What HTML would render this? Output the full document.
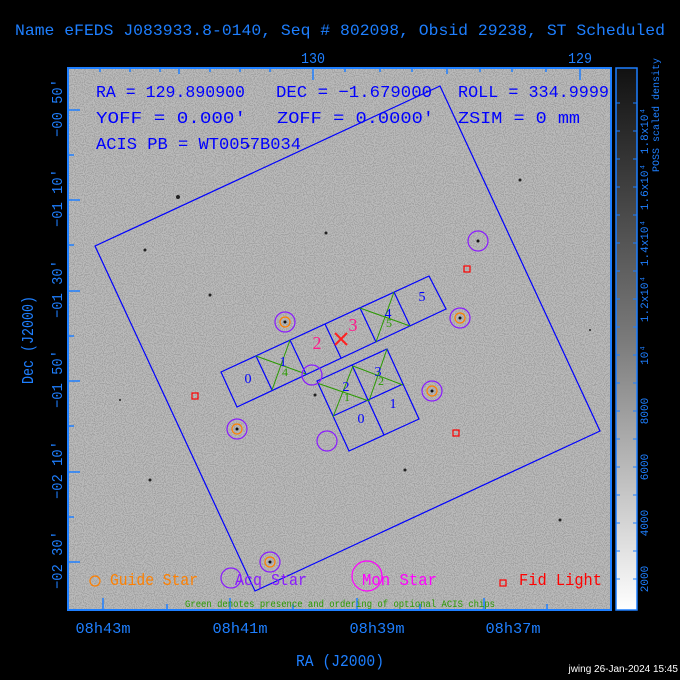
<!DOCTYPE html>
<html><head><meta charset="utf-8"><style>
html,body{margin:0;padding:0;background:#000;}
svg{display:block;}
text{font-family:"Liberation Serif",serif;}
.m{font-family:"Liberation Mono",monospace;}
</style></head><body>
<svg width="680" height="680" viewBox="0 0 680 680" xmlns="http://www.w3.org/2000/svg">
<defs>
<filter id="nz" x="0" y="0" width="100%" height="100%">
<feTurbulence type="fractalNoise" baseFrequency="0.9" numOctaves="1" seed="3" result="t"/>
<feColorMatrix in="t" type="matrix" values="0 0 0 0 0  0 0 0 0 0  0 0 0 0 0  0 0 0 -12 6.2"/>
</filter>
<linearGradient id="cb" x1="0" y1="0" x2="0" y2="1">
<stop offset="0" stop-color="#111"/><stop offset="0.5" stop-color="#7a7a7a"/><stop offset="1" stop-color="#fff"/>
</linearGradient>
</defs>
<text class="m" x="340" y="35" font-size="16" fill="#1e7fff" text-anchor="middle" textLength="650" lengthAdjust="spacingAndGlyphs">Name eFEDS J083933.8-0140, Seq # 802098, Obsid 29238, ST Scheduled</text>
<rect x="68" y="68" width="543" height="542" fill="#bababa"/>
<rect x="68" y="68" width="543" height="542" filter="url(#nz)" opacity="0.12"/>
<g fill="#222">
<circle cx="178" cy="197" r="2"/><circle cx="145" cy="250" r="1.5"/><circle cx="210" cy="295" r="1.5"/><circle cx="326" cy="233" r="1.5"/><circle cx="405" cy="470" r="1.5"/><circle cx="520" cy="180" r="1.5"/><circle cx="150" cy="480" r="1.5"/><circle cx="560" cy="520" r="1.5"/><circle cx="315" cy="395" r="1.5"/><circle cx="248" cy="146" r="1.5"/><circle cx="590" cy="330" r="1"/><circle cx="120" cy="400" r="1"/>
</g>
<rect x="68" y="68" width="543" height="542" fill="none" stroke="#1e7fff" stroke-width="2"/>
<g stroke="#1e7fff" stroke-width="1.5">
<path d="M68 110h12M68 200h12M68 291h12M68 381h12M68 472h12M68 562h12M68 155h6M68 245h6M68 336h6M68 426h6M68 517h6"/>
<path d="M103 610v-12M230 610v-12M357 610v-12M484 610v-12M167 610v-6M293 610v-6M420 610v-6M547 610v-6"/>
<path d="M313 68v12M580 68v12M179 68v6M447 68v6M100 68v4M130 68v4M160 68v4M210 68v4M240 68v4M270 68v4M345 68v4M380 68v4M412 68v4M480 68v4M512 68v4M546 68v4"/>
</g>
<g fill="#1e7fff" font-size="15" class="m">
<text class="m" x="313" y="63" text-anchor="middle" textLength="24" lengthAdjust="spacingAndGlyphs">130</text>
<text class="m" x="580" y="63" text-anchor="middle" textLength="24" lengthAdjust="spacingAndGlyphs">129</text>
<text class="m" x="103" y="633" text-anchor="middle" textLength="55" lengthAdjust="spacingAndGlyphs">08h43m</text>
<text class="m" x="240" y="633" text-anchor="middle" textLength="55" lengthAdjust="spacingAndGlyphs">08h41m</text>
<text class="m" x="377" y="633" text-anchor="middle" textLength="55" lengthAdjust="spacingAndGlyphs">08h39m</text>
<text class="m" x="513" y="633" text-anchor="middle" textLength="55" lengthAdjust="spacingAndGlyphs">08h37m</text>
<text class="m" x="340" y="666" text-anchor="middle" font-size="17" textLength="88" lengthAdjust="spacingAndGlyphs">RA (J2000)</text>
<text class="m" transform="translate(62,108) rotate(-90)" text-anchor="middle" textLength="58" lengthAdjust="spacingAndGlyphs">−00 50′</text>
<text class="m" transform="translate(62,198) rotate(-90)" text-anchor="middle" textLength="58" lengthAdjust="spacingAndGlyphs">−01 10′</text>
<text class="m" transform="translate(62,289) rotate(-90)" text-anchor="middle" textLength="58" lengthAdjust="spacingAndGlyphs">−01 30′</text>
<text class="m" transform="translate(62,379) rotate(-90)" text-anchor="middle" textLength="58" lengthAdjust="spacingAndGlyphs">−01 50′</text>
<text class="m" transform="translate(62,470) rotate(-90)" text-anchor="middle" textLength="58" lengthAdjust="spacingAndGlyphs">−02 10′</text>
<text class="m" transform="translate(62,560) rotate(-90)" text-anchor="middle" textLength="58" lengthAdjust="spacingAndGlyphs">−02 30′</text>
<text class="m" transform="translate(33,340) rotate(-90)" text-anchor="middle" font-size="17" textLength="88" lengthAdjust="spacingAndGlyphs">Dec (J2000)</text>
</g>
<g fill="#0000ff" font-size="17">
<text class="m" x="96" y="97" textLength="149" lengthAdjust="spacingAndGlyphs">RA = 129.890900</text>
<text class="m" x="276" y="97" textLength="156" lengthAdjust="spacingAndGlyphs">DEC = −1.679000</text>
<text class="m" x="458" y="97" textLength="151" lengthAdjust="spacingAndGlyphs">ROLL = 334.9999</text>
<text class="m" x="96" y="123" textLength="150" lengthAdjust="spacingAndGlyphs">YOFF =   0.000′</text>
<text class="m" x="277" y="123" textLength="157" lengthAdjust="spacingAndGlyphs">ZOFF =  0.0000′</text>
<text class="m" x="458" y="123" textLength="122" lengthAdjust="spacingAndGlyphs">ZSIM = 0 mm</text>
<text class="m" x="96" y="149" textLength="205" lengthAdjust="spacingAndGlyphs">ACIS PB = WT0057B034</text>
</g>
<g fill="none" stroke="#0000ff" stroke-width="1.2">
<polygon points="95,246 440,86 600,431 255,591"/>
<polygon points="221,372 429,276 446,309 237,407"/>
<path d="M256,356 L272,390 M290,340 L306,374 M325,324 L341,358 M360,308 L376,342 M394,292 L410,326"/>
<polygon points="387,349 419,419 349,451 317,381"/>
<path d="M352,365 L384,435 M403,384 L333,416"/>
</g>
<g stroke="#2a9a00" stroke-width="1">
<path d="M256,356 L306,374 M290,340 L272,390 M360,308 L410,326 M394,292 L376,342 M353,366 L333,417 M353,366 L403,385 M317,383 L369,401 M387,349 L369,401"/>
</g>
<g fill="#0000ff" font-size="14">
<text x="248" y="383" text-anchor="middle">0</text>
<text x="283" y="366" text-anchor="middle">1</text>
<text x="388" y="318" text-anchor="middle">4</text>
<text x="422" y="301" text-anchor="middle">5</text>
<text x="346" y="391" text-anchor="middle">2</text>
<text x="378" y="376" text-anchor="middle">3</text>
<text x="361" y="423" text-anchor="middle">0</text>
<text x="393" y="408" text-anchor="middle">1</text>
</g>
<g fill="#2a9a00" font-size="12">
<text x="285" y="376" text-anchor="middle">4</text>
<text x="389" y="327" text-anchor="middle">5</text>
<text x="347" y="401" text-anchor="middle">1</text>
<text x="381" y="385" text-anchor="middle">2</text>
</g>
<g fill="#ff1a8c" font-size="18">
<text x="317" y="349" text-anchor="middle">2</text>
<text x="353" y="331" text-anchor="middle">3</text>
</g>
<path d="M335,333 L347,345 M347,333 L335,345" stroke="#ff2020" stroke-width="2"/>
<g fill="none" stroke="#8a1aff" stroke-width="1.2">
<circle cx="285" cy="322" r="10"/><circle cx="478" cy="241" r="10"/><circle cx="460" cy="318" r="10"/><circle cx="432" cy="391" r="10"/><circle cx="237" cy="429" r="10"/><circle cx="270" cy="562" r="10"/><circle cx="312" cy="375" r="10"/><circle cx="327" cy="441" r="10"/>
</g>
<g fill="none" stroke="#ff8000" stroke-width="1.2">
<circle cx="285" cy="322" r="5"/><circle cx="460" cy="318" r="5"/><circle cx="432" cy="391" r="5"/><circle cx="237" cy="429" r="5"/><circle cx="270" cy="562" r="5"/>
</g>
<g fill="#111"><circle cx="285" cy="322" r="1.5"/><circle cx="478" cy="241" r="1.5"/><circle cx="460" cy="318" r="1.5"/><circle cx="432" cy="391" r="1.5"/><circle cx="237" cy="429" r="1.5"/><circle cx="270" cy="562" r="1.5"/></g>
<g fill="none" stroke="#ff0000" stroke-width="1.2">
<rect x="192" y="393" width="6" height="6"/><rect x="464" y="266" width="6" height="6"/><rect x="453" y="430" width="6" height="6"/><rect x="500" y="580" width="6" height="6"/>
</g>
<circle cx="95" cy="581" r="5" fill="none" stroke="#ff8000" stroke-width="1.2"/>
<circle cx="231" cy="578" r="10" fill="none" stroke="#8a1aff" stroke-width="1.2"/>
<circle cx="367" cy="576" r="15" fill="none" stroke="#ff00ff" stroke-width="1.2"/>
<g font-size="17">
<text class="m" x="110" y="585" fill="#ff8000" textLength="88" lengthAdjust="spacingAndGlyphs">Guide Star</text>
<text class="m" x="235" y="585" fill="#8a1aff" textLength="72" lengthAdjust="spacingAndGlyphs">Acq Star</text>
<text class="m" x="362" y="585" fill="#ff00ff" textLength="75" lengthAdjust="spacingAndGlyphs">Mon Star</text>
<text class="m" x="519" y="585" fill="#ff0000" textLength="83" lengthAdjust="spacingAndGlyphs">Fid Light</text>
</g>
<text class="m" x="340" y="607" fill="#2a9a00" font-size="10" text-anchor="middle" textLength="310" lengthAdjust="spacingAndGlyphs">Green denotes presence and ordering of optional ACIS chips</text>
<rect x="616" y="68" width="21" height="542" fill="url(#cb)" stroke="#1e7fff" stroke-width="1.5"/>
<g stroke="#1e7fff" stroke-width="1"><path d="M616 103h4M633 103h4M616 131h4M633 131h4M616 159h4M633 159h4M616 187h4M633 187h4M616 215h4M633 215h4M616 243h4M633 243h4M616 271h4M633 271h4M616 299h4M633 299h4M616 327h4M633 327h4M616 355h4M633 355h4M616 383h4M633 383h4M616 411h4M633 411h4M616 439h4M633 439h4M616 467h4M633 467h4M616 495h4M633 495h4M616 523h4M633 523h4M616 551h4M633 551h4M616 579h4M633 579h4"/></g>
<g fill="#1e7fff" font-size="11">
<text class="m" transform="translate(648,579) rotate(-90)" text-anchor="middle">2000</text>
<text class="m" transform="translate(648,523) rotate(-90)" text-anchor="middle">4000</text>
<text class="m" transform="translate(648,467) rotate(-90)" text-anchor="middle">6000</text>
<text class="m" transform="translate(648,411) rotate(-90)" text-anchor="middle">8000</text>
<text class="m" transform="translate(648,355) rotate(-90)" text-anchor="middle">10⁴</text>
<text class="m" transform="translate(648,299) rotate(-90)" text-anchor="middle">1.2x10⁴</text>
<text class="m" transform="translate(648,243) rotate(-90)" text-anchor="middle">1.4x10⁴</text>
<text class="m" transform="translate(648,187) rotate(-90)" text-anchor="middle">1.6x10⁴</text>
<text class="m" transform="translate(648,131) rotate(-90)" text-anchor="middle">1.8x10⁴</text>
<text class="m" transform="translate(659,115) rotate(-90)" text-anchor="middle" font-size="10">POSS scaled density</text>
</g>
<text x="678" y="672" fill="#fff" font-size="10" text-anchor="end" font-family="Liberation Sans,sans-serif" style="font-family:'Liberation Sans',sans-serif">jwing 26-Jan-2024 15:45</text>
</svg>
</body></html>
